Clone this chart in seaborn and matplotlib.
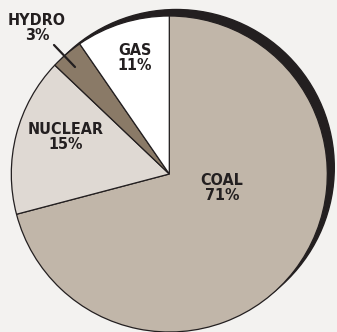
import matplotlib
matplotlib.use("Agg")
import matplotlib.pyplot as plt
import seaborn as sns
from matplotlib.patches import Circle
from matplotlib import font_manager

categories = ["COAL", "NUCLEAR", "HYDRO", "GAS"]
shares = [70.9, 16.2, 3.3, 9.6]          # wedge sizes as drawn in the picture
labels = ["COAL\n71%", "NUCLEAR\n15%", "HYDRO\n3%", "GAS\n11%"]
colors = ["#c1b6a9", "#dfd9d3", "#8a7a67", "#ffffff"]

sns.set_theme(style="white")
plt.rcParams['font.family'] = ['DejaVu Sans']

cond = [f for f in font_manager.fontManager.ttflist if 'Condensed' in f.fname and 'Bold' in f.fname and 'Oblique' not in f.fname and 'Italic' not in f.fname]
fp = font_manager.FontProperties(fname=cond[0].fname, size=11.5) if cond else \
    font_manager.FontProperties(family='DejaVu Sans', weight='bold', size=11)

W, H = 337, 332
fig = plt.figure(figsize=(W / 100, H / 100), dpi=100)
fig.patch.set_facecolor("#f3f2f0")
ax = fig.add_axes([0, 0, 1, 1])
ax.set_facecolor("#f3f2f0")

cx, cy, r = 169.3, H - 174, 158
ax.add_patch(Circle((cx + 7, cy + 6.5), r, color="#231f20", zorder=0))

wedges, _ = ax.pie(shares, colors=colors, startangle=90, counterclock=False,
                   center=(cx, cy), radius=r, frame=True,
                   wedgeprops=dict(edgecolor="#231f20", linewidth=0.9))
for w in wedges:
    w.set_zorder(1)

ax.set_xlim(0, W)
ax.set_ylim(0, H)
ax.set_aspect("equal")
ax.axis("off")

pos = {"COAL": (222, 188), "NUCLEAR": (66, 137), "HYDRO": (37, 28), "GAS": (135, 58)}
for cat, lab in zip(categories, labels):
    x, y = pos[cat]
    ax.text(x, H - y, lab, ha="center", va="center", fontproperties=fp,
            color="#231f20", linespacing=1.0, zorder=3)

ax.plot([54, 75], [H - 45, H - 67], color="#231f20", lw=1.6, zorder=3)

fig.savefig("out.png", dpi=100, facecolor=fig.get_facecolor())
